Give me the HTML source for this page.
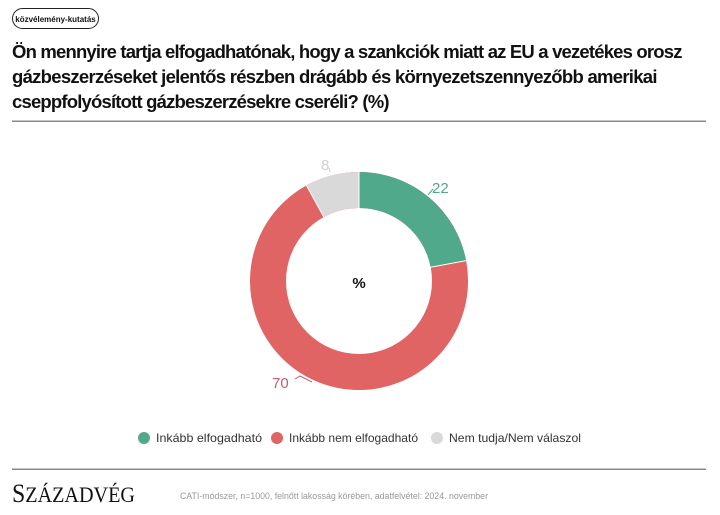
<!DOCTYPE html>
<html><head><meta charset="utf-8"><style>
html,body{margin:0;padding:0;background:#fff;}
svg{display:block;font-family:"Liberation Sans",Arial,sans-serif;}
</style></head><body>
<svg width="720" height="515" viewBox="0 0 720 515" xmlns="http://www.w3.org/2000/svg">
<rect x="12.5" y="8.5" width="86" height="20" rx="10" fill="#fff" stroke="#222" stroke-width="1"/>
<text x="55.5" y="22" font-size="8" font-weight="bold" text-anchor="middle" fill="#111">közvélemény-kutatás</text>
<g font-size="18.5" font-weight="bold" fill="#111">
<text x="12" y="58" textLength="670" lengthAdjust="spacing" letter-spacing="-0.5">Ön mennyire tartja elfogadhatónak, hogy a szankciók miatt az EU a vezetékes orosz</text>
<text x="12" y="83" textLength="645" lengthAdjust="spacing" letter-spacing="-0.5">gázbeszerzéseket jelentős részben drágább és környezetszennyezőbb amerikai</text>
<text x="12" y="108" textLength="377" lengthAdjust="spacing" letter-spacing="-0.5">cseppfolyósított gázbeszerzésekre cseréli? (%)</text>
</g>
<rect x="12" y="120.5" width="694" height="1.5" fill="#888"/>
<g transform="rotate(-90 359 281)">
<circle cx="359" cy="281" r="91" fill="none" stroke="#e06464" stroke-width="36"/>
<circle cx="359" cy="281" r="91" fill="none" stroke="#4fa98a" stroke-width="36" stroke-dasharray="125.79 600"/>
<circle cx="359" cy="281" r="91" fill="none" stroke="#d9d9d9" stroke-width="36" stroke-dasharray="45.74 600" stroke-dashoffset="-526.03"/>
</g>
<line x1="359" y1="172" x2="359" y2="208" stroke="#fff" stroke-width="1"/>
<line x1="430.5" y1="267.3" x2="466.1" y2="260.6" stroke="#fff" stroke-width="1"/>
<line x1="323.8" y1="217" x2="306.5" y2="185.5" stroke="#fff" stroke-width="1"/>
<text x="359" y="288" font-size="15" font-weight="bold" text-anchor="middle" fill="#111">%</text>
<path d="M428 195 L433 189" stroke="#4fa98a" stroke-width="1" fill="none"/>
<text x="432" y="193" font-size="15" fill="#4fa98a">22</text>
<path d="M330 172 L329 168" stroke="#ccc" stroke-width="1" fill="none"/>
<text x="321" y="170" font-size="15" fill="#d0d0d0">8</text>
<path d="M295 379 L300 376 L312 382" stroke="#c06070" stroke-width="1" fill="none"/>
<text x="272" y="388" font-size="15" fill="#c06070">70</text>
<g font-size="12" fill="#333">
<circle cx="144" cy="438" r="6" fill="#4fa98a"/>
<text x="156" y="442" textLength="106" lengthAdjust="spacingAndGlyphs">Inkább elfogadható</text>
<circle cx="277" cy="438" r="6" fill="#e06464"/>
<text x="289" y="442" textLength="129" lengthAdjust="spacingAndGlyphs">Inkább nem elfogadható</text>
<circle cx="437" cy="438" r="6" fill="#d9d9d9"/>
<text x="449" y="442" textLength="132" lengthAdjust="spacingAndGlyphs">Nem tudja/Nem válaszol</text>
</g>
<rect x="12" y="468.5" width="694" height="1.5" fill="#888"/>
<text x="12" y="502" font-family="Liberation Serif,serif" fill="#111" textLength="123" lengthAdjust="spacingAndGlyphs"><tspan font-size="26">S</tspan><tspan font-size="22">ZÁZADVÉG</tspan></text>
<text x="180" y="499" font-size="9" fill="#999" textLength="308" lengthAdjust="spacingAndGlyphs">CATI-módszer, n=1000, felnőtt lakosság körében, adatfelvétel: 2024. november</text>
</svg>
</body></html>
